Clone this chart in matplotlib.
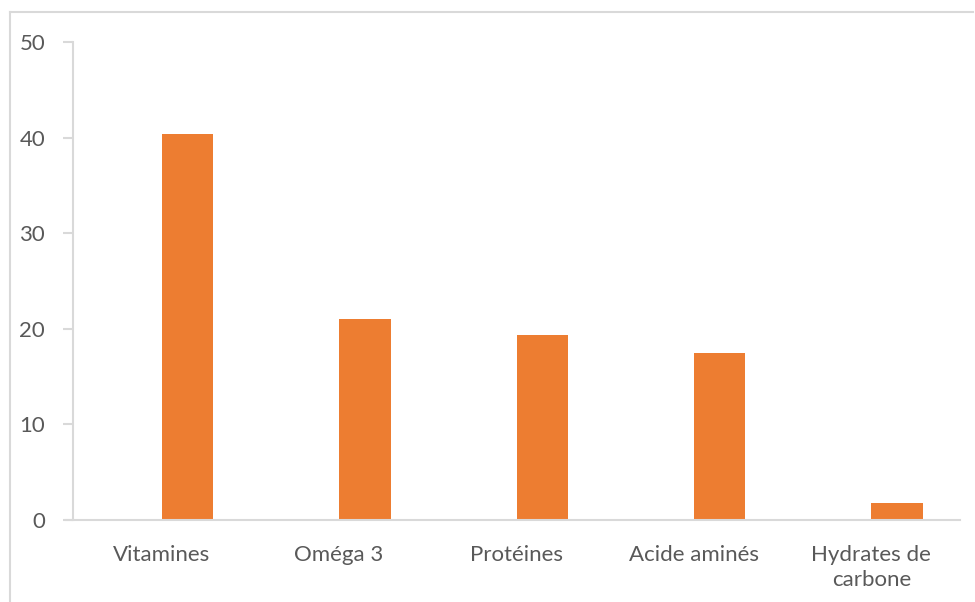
import matplotlib
matplotlib.use("Agg")
import matplotlib.pyplot as plt
from matplotlib.lines import Line2D

categories = ["Vitamines", "Oméga 3", "Protéines", "Acide aminés", "Hydrates de\ncarbone"]
values = [40.4, 21.0, 19.3, 17.5, 1.75]
yticks = [0, 10, 20, 30, 40, 50]

W, H = 975, 602
fig = plt.figure(figsize=(W / 100, H / 100), dpi=100)
plt.rcParams["font.family"] = ["Lato", "DejaVu Sans"]

ax = fig.add_axes([73 / W, 1 - 520 / H, (960 - 73) / W, (520 - 42) / H])

grey_txt = "#595959"
grey_line = "#d9d9d9"
bar_color = "#ED7D31"

x = list(range(len(categories)))
ax.bar(x, values, width=0.29, align="edge", color=bar_color)

ax.set_xlim(-0.5, len(categories) - 0.5)
ax.set_ylim(0, 50)
ax.set_yticks(yticks)
ax.set_yticklabels([str(v) for v in yticks], fontsize=16, color=grey_txt)
ax.set_xticks(x)
ax.set_xticklabels(categories, fontsize=16, color=grey_txt, linespacing=1.3)

ax.tick_params(axis="y", length=7, width=1.5, color=grey_line, pad=13)
ax.tick_params(axis="x", length=0, pad=18)

for side in ("top", "right"):
    ax.spines[side].set_visible(False)
for side in ("left", "bottom"):
    ax.spines[side].set_color(grey_line)
    ax.spines[side].set_linewidth(1.5)
ax.spines["bottom"].set_bounds(-0.5 - 7 / 177.4, len(categories) - 0.5)

# outer chart-area frame
fig.add_artist(Line2D([10 / W, 10 / W], [0, 1 - 12 / H], transform=fig.transFigure,
                      color=grey_line, lw=1.5))
fig.add_artist(Line2D([10 / W, 973 / W], [1 - 12 / H, 1 - 12 / H], transform=fig.transFigure,
                      color=grey_line, lw=1.5))

fig.savefig("out.png", dpi=100)
